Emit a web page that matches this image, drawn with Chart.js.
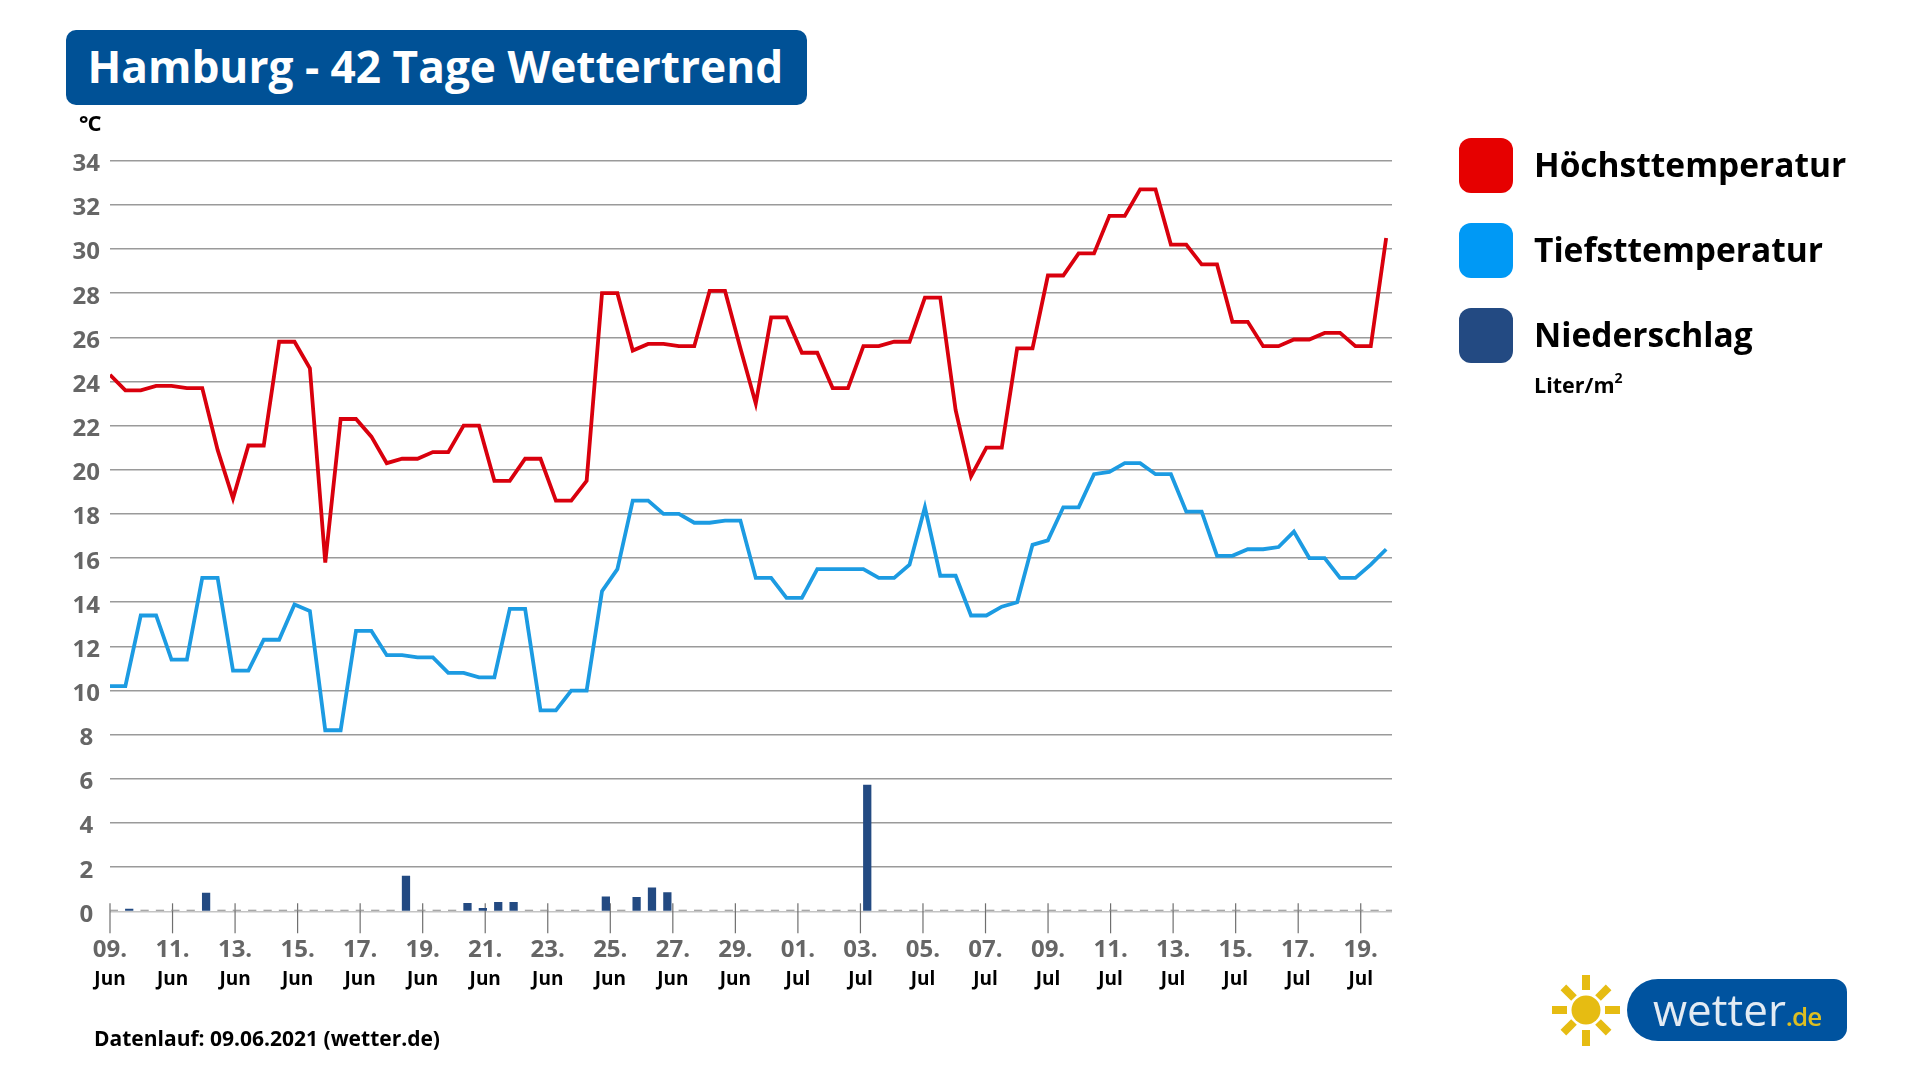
<!DOCTYPE html>
<html lang="de">
<head>
<meta charset="utf-8">
<title>Hamburg - 42 Tage Wettertrend</title>
<script src="https://cdn.jsdelivr.net/npm/chart.js@4"></script>
<style>
html,body{margin:0;padding:0;background:#fff;width:1923px;height:1082px;overflow:hidden;font-family:"Open Sans",sans-serif}
#wrap{position:relative;width:1923px;height:1082px}
canvas{position:absolute;left:0;top:0}
.abs{position:absolute;white-space:nowrap}
#title{left:66px;top:30px;width:741px;height:75px;background:#005196;border-radius:10px;color:#fff;font-weight:700;font-size:44.2px;line-height:73px;text-indent:21.5px}
#unit{left:79px;top:107px;font-size:22px;font-weight:700;color:#000;line-height:30px;letter-spacing:-1px}
.sw{position:absolute;left:1459px;width:54px;height:55px;border-radius:12px}
.lg{left:1534px;font-size:33.5px;font-weight:700;color:#000;line-height:46px;letter-spacing:0}
#liter{left:1534px;top:370px;font-size:21.5px;font-weight:700;color:#000;line-height:30px}
#liter sup{font-size:14px;line-height:0;vertical-align:10px}
#foot{left:94px;top:1023px;font-size:21px;font-weight:700;color:#000;line-height:30px}
#pill{left:1627px;top:979px;width:220px;height:62px;background:#00539F;border-radius:31px 13px 13px 31px}
#wt{left:1653px;top:979px;line-height:60px;font-size:44px;color:#E3EBF3;font-family:"Open Sans",sans-serif}
#wt span{font-size:26px;letter-spacing:-1px;font-weight:600;color:#DDBE22}
</style>
</head>
<body>
<div id="wrap">
<canvas id="c" width="1923" height="1082"></canvas>
<div class="abs" id="title">Hamburg - 42 Tage Wettertrend</div>
<div class="abs" id="unit">°C</div>
<div class="sw" style="top:138px;background:#E60000"></div>
<div class="abs lg" style="top:141px">Höchsttemperatur</div>
<div class="sw" style="top:223px;background:#0099F5"></div>
<div class="abs lg" style="top:226px">Tiefsttemperatur</div>
<div class="sw" style="top:308px;background:#234A82"></div>
<div class="abs lg" style="top:311px">Niederschlag</div>
<div class="abs" id="liter">Liter/m<sup>2</sup></div>
<div class="abs" id="foot">Datenlauf: 09.06.2021 (wetter.de)</div>
<svg class="abs" style="left:1548px;top:970px" width="76" height="80" viewBox="-38 -40 76 80">
<circle cx="0" cy="0" r="14.5" fill="#E6BC12"/>
<g fill="#E6BC12">
<rect x="-4" y="-35" width="8" height="15"/>
<rect x="-4" y="20" width="8" height="16"/>
<rect x="-34" y="-4" width="15" height="8"/>
<rect x="19" y="-4" width="15" height="8"/>
<rect x="-4" y="-32" width="8" height="15" transform="rotate(45)"/>
<rect x="-4" y="-32" width="8" height="15" transform="rotate(135)"/>
<rect x="-4" y="-32" width="8" height="15" transform="rotate(225)"/>
<rect x="-4" y="-32" width="8" height="15" transform="rotate(315)"/>
</g>
</svg>
<div class="abs" id="pill"></div>
<div class="abs" id="wt">wetter<span>.de</span></div>
</div>
<script>
const dayLabels = ["09.","11.","13.","15.","17.","19.","21.","23.","25.","27.","29.","01.","03.","05.","07.","09.","11.","13.","15.","17.","19."];
const monthLabels = ["Jun","Jun","Jun","Jun","Jun","Jun","Jun","Jun","Jun","Jun","Jun","Jul","Jul","Jul","Jul","Jul","Jul","Jul","Jul","Jul","Jul"];
const high = [24.3,23.6,23.6,23.8,23.8,23.7,23.7,20.9,18.7,21.1,21.1,25.8,25.8,24.6,15.8,22.3,22.3,21.5,20.3,20.5,20.5,20.8,20.8,22.0,22.0,19.5,19.5,20.5,20.5,18.6,18.6,19.5,28.0,28.0,25.4,25.7,25.7,25.6,25.6,28.1,28.1,25.5,23.0,26.9,26.9,25.3,25.3,23.7,23.7,25.6,25.6,25.8,25.8,27.8,27.8,22.7,19.7,21.0,21.0,25.5,25.5,28.8,28.8,29.8,29.8,31.5,31.5,32.7,32.7,30.2,30.2,29.3,29.3,26.7,26.7,25.6,25.6,25.9,25.9,26.2,26.2,25.6,25.6,30.5];
const low = [10.2,10.2,13.4,13.4,11.4,11.4,15.1,15.1,10.9,10.9,12.3,12.3,13.9,13.6,8.2,8.2,12.7,12.7,11.6,11.6,11.5,11.5,10.8,10.8,10.6,10.6,13.7,13.7,9.1,9.1,10.0,10.0,14.5,15.5,18.6,18.6,18.0,18.0,17.6,17.6,17.7,17.7,15.1,15.1,14.2,14.2,15.5,15.5,15.5,15.5,15.1,15.1,15.7,18.3,15.2,15.2,13.4,13.4,13.8,14.0,16.6,16.8,18.3,18.3,19.8,19.9,20.3,20.3,19.8,19.8,18.1,18.1,16.1,16.1,16.4,16.4,16.5,17.2,16.0,16.0,15.1,15.1,15.7,16.4];
const rain = [0,0.1,0,0,0,0,0.82,0,0,0,0,0,0,0,0,0,0,0,0,1.6,0,0,0,0.36,0.14,0.41,0.41,0,0,0,0,0,0.66,0,0.63,1.06,0.85,0,0,0,0,0,0,0,0,0,0,0,0,5.72,0,0,0,0,0,0,0,0,0,0,0,0,0,0,0,0,0,0,0,0,0,0,0,0,0,0,0,0,0,0,0,0,0,0];

const tickMarks = {
  id: "tickMarks",
  beforeDatasetsDraw(chart) {
    const {ctx, scales} = chart;
    const y0 = scales.y.getPixelForValue(0);
    ctx.save();
    ctx.strokeStyle = "#6f6f6f";
    ctx.lineWidth = 1.2;
    scales.x.ticks.forEach(t => {
      const px = scales.x.getPixelForValue(t.value);
      ctx.beginPath();
      ctx.moveTo(px, y0 - 8);
      ctx.lineTo(px, y0 + 22);
      ctx.stroke();
    });
    ctx.restore();
  }
};

const labelFont = {family: "'Open Sans'", size: 24, weight: "700"};

new Chart(document.getElementById("c"), {
  data: {
    datasets: [
      {type: "line", label: "Höchsttemperatur", xAxisID: "xi", yAxisID: "y",
       data: high.map((v, i) => ({x: i, y: v})), borderColor: "#D9000D", borderWidth: 3.8,
       pointRadius: 0, tension: 0, borderJoinStyle: "miter"},
      {type: "line", label: "Tiefsttemperatur", xAxisID: "xi", yAxisID: "y",
       data: low.map((v, i) => ({x: i, y: v})), borderColor: "#1C9BE2", borderWidth: 3.8,
       pointRadius: 0, tension: 0, borderJoinStyle: "miter"},
      {type: "bar", label: "Niederschlag", xAxisID: "xb", yAxisID: "y",
       data: rain.map((v, i) => ({x: i, y: v})),
       backgroundColor: c => c.raw && c.raw.y === 0 ? "#8a8a8a" : "#234A82",
       barThickness: 7.6, minBarLength: 1.2, grouped: false}
    ]
  },
  plugins: [tickMarks],
  options: {
    responsive: false,
    animation: false,
    devicePixelRatio: 1,
    layout: {padding: {left: 60, right: 531, top: 160.7, bottom: 75}},
    plugins: {legend: {display: false}, title: {display: false}, tooltip: {enabled: false}},
    scales: {
      y: {
        min: 0, max: 34, position: "left",
        afterFit: s => { s.width = 50; },
        ticks: {stepSize: 2, color: "#666666", font: labelFont, padding: 10, crossAlign: "center", labelOffset: 3.6},
        grid: {color: c => c.tick.value === 0 ? "#c4c4c4" : "#9a9a9a", lineWidth: 1.6, drawTicks: false},
        border: {display: false}
      },
      x: {
        type: "linear", min: 0, max: 41, position: "bottom", weight: 1,
        afterFit: s => { s.height = 52; },
        ticks: {stepSize: 2, includeBounds: false, autoSkip: false, maxRotation: 0, color: "#666666",
                font: labelFont, padding: 24, callback: v => dayLabels[v / 2]},
        grid: {display: false, drawTicks: false}, border: {display: false}
      },
      xm: {
        type: "linear", min: 0, max: 41, position: "bottom", weight: 2,
        afterFit: s => { s.height = 43.7; },
        ticks: {stepSize: 2, includeBounds: false, autoSkip: false, maxRotation: 0, color: "#000000",
                font: {family: "'Open Sans'", size: 19, weight: "700"}, padding: 4.5,
                callback: v => monthLabels[v / 2]},
        grid: {display: false, drawTicks: false}, border: {display: false}
      },
      xi: {type: "linear", display: false, min: 0, max: 83.38},
      xb: {type: "linear", display: false, offset: false, min: -0.25, max: 83.13}
    }
  }
});
</script>
</body>
</html>
